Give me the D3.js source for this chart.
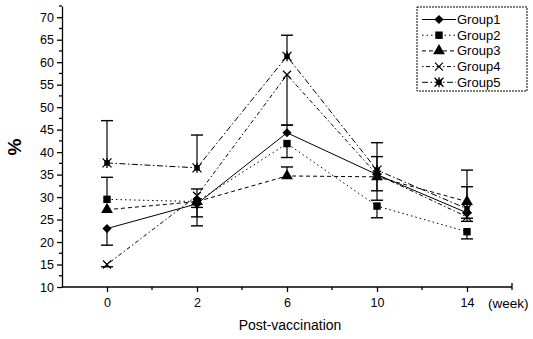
<!DOCTYPE html>
<meta charset="utf-8">
<head>
  <title>Post-vaccination</title>
  <script src="https://d3js.org/d3.v7.min.js"></script>
  <style>
    body { margin: 0; background: white; }
    text { font-family: "Liberation Sans", Arial, sans-serif; fill: black; }
    .axis path, .axis line { stroke: black; stroke-width: 1.3; }
    .axis text { font-size: 12.5px; }
  </style>
</head>
<body>
<script>
  // weeks after vaccination (categorical, evenly spaced)
  var weeks = ["0", "2", "6", "10", "14"];
  var yTicks = [10, 15, 20, 25, 30, 35, 40, 45, 50, 55, 60, 65, 70];

  var groupNames = ["Group1", "Group2", "Group3", "Group4", "Group5"];
  var group1 = [23.0, 28.5, 44.3, 35.0, 26.5];
  var group2 = [29.5, 29.0, 41.9, 28.0, 22.3];
  var group3 = [27.2, 29.0, 34.7, 34.5, 29.0];
  var group4 = [15.0, 30.3, 57.2, 35.0, 25.6];
  var group5 = [37.6, 36.5, 61.3, 36.0, 27.4];
  // one-sided error bars: positive = drawn up, negative = drawn down
  var err1 = [-3.7, -4.9, 1.7, -3.6, -1.2];
  var err2 = [4.9, -1.3, -3.1, -2.6, -1.6];
  var err3 = [0, -3.4, 2.0, -5.2, 3.3];
  var err4 = [-0.5, 1.5, -11.2, 4.0, -1.0];
  var err5 = [9.4, 7.3, 4.7, 6.1, 8.6];

  var values = [group1, group2, group3, group4, group5];
  var errors = [err1, err2, err3, err4, err5];
  var dashes = [null, "1.5,3", "4,3", "1.5,2.5,4,2.5", "6,2.5,1.5,2.5"];
  var shapes = ["diamond", d3.symbolSquare, d3.symbolTriangle, "x", "star"];

  var W = 533, H = 339;
  var svg = d3.select("body").append("svg").attr("width", W).attr("height", H);

  var x = d3.scalePoint().domain(weeks).range([62, 512]).padding(0.5);
  var y = d3.scaleLinear().domain([10, 72.5]).range([287, 6]);

  // x axis
  var gx = svg.append("g").attr("class", "axis").attr("transform", "translate(0,287)");
  gx.call(d3.axisBottom(x).tickSize(5).tickSizeOuter(0).tickPadding(6));
  gx.select(".domain").attr("d", "M62,0H512");
  var step = x.step();
  gx.selectAll(".minor").data(weeks.map(function(w) { return x(w) + step / 2; }))
    .enter().append("line").attr("class", "minor")
    .attr("x1", function(d) { return d; }).attr("x2", function(d) { return d; })
    .attr("y1", 0).attr("y2", 3);
  gx.append("line").attr("x1", 512).attr("x2", 512).attr("y1", 0).attr("y2", -4);

  // y axis
  var gy = svg.append("g").attr("class", "axis").attr("transform", "translate(62,0)");
  gy.call(d3.axisLeft(y).tickValues(yTicks).tickSize(5).tickSizeOuter(0).tickPadding(3));
  gy.selectAll(".minor").data(yTicks.map(function(t) { return t + 2.5; }))
    .enter().append("line").attr("class", "minor")
    .attr("x1", 0).attr("x2", -3)
    .attr("y1", function(d) { return y(d); }).attr("y2", function(d) { return y(d); });

  svg.append("text").attr("x", 488).attr("y", 308).style("font-size", "13.5px").text("(week)");
  svg.append("text").attr("x", 290).attr("y", 330).attr("text-anchor", "middle")
    .style("font-size", "14px").text("Post-vaccination");
  svg.append("text").attr("transform", "translate(21,147) rotate(-90)")
    .attr("text-anchor", "middle").style("font-size", "19px").style("font-weight", "bold").text("%");

  function marker(g, shape, cx, cy) {
    if (shape === "x") {
      g.append("path").attr("d", "M" + (cx - 4) + "," + (cy - 4) + "L" + (cx + 4) + "," + (cy + 4) +
        "M" + (cx - 4) + "," + (cy + 4) + "L" + (cx + 4) + "," + (cy - 4))
        .attr("stroke", "black").attr("stroke-width", 1.2);
    } else if (shape === "star") {
      g.append("path").attr("transform", "translate(" + cx + "," + cy + ")")
        .attr("d", d3.symbol().type(d3.symbolSquare).size(30)()).attr("fill", "black");
      g.append("path").attr("d", "M" + (cx - 4.5) + "," + (cy - 4.5) + "L" + (cx + 4.5) + "," + (cy + 4.5) +
        "M" + (cx - 4.5) + "," + (cy + 4.5) + "L" + (cx + 4.5) + "," + (cy - 4.5) +
        "M" + cx + "," + (cy - 5) + "V" + (cy + 5))
        .attr("stroke", "black").attr("stroke-width", 1.3);
    } else if (shape === "diamond") {
      g.append("path").attr("transform", "translate(" + cx + "," + cy + ") rotate(45)")
        .attr("d", d3.symbol().type(d3.symbolSquare).size(42)()).attr("fill", "black");
    } else {
      var size = shape === d3.symbolSquare ? 55 : 60;
      g.append("path").attr("transform", "translate(" + cx + "," + cy + ")")
        .attr("d", d3.symbol().type(shape).size(size)()).attr("fill", "black");
    }
  }

  var line = d3.line().x(function(d, i) { return x(weeks[i]); }).y(function(d) { return y(d); });

  values.forEach(function(vals, gi) {
    var g = svg.append("g");
    g.append("path").datum(vals).attr("d", line).attr("fill", "none")
      .attr("stroke", "black").attr("stroke-width", 1)
      .attr("stroke-dasharray", dashes[gi]);
    // error bars
    vals.forEach(function(v, i) {
      var e = errors[gi][i];
      if (!e) return;
      var cx = x(weeks[i]);
      g.append("line").attr("x1", cx).attr("x2", cx).attr("y1", y(v)).attr("y2", y(v + e))
        .attr("stroke", "black").attr("stroke-width", 1.2);
      g.append("line").attr("x1", cx - 6).attr("x2", cx + 6).attr("y1", y(v + e)).attr("y2", y(v + e))
        .attr("stroke", "black").attr("stroke-width", 1.4);
    });
    vals.forEach(function(v, i) { marker(g, shapes[gi], x(weeks[i]), y(v)); });
  });

  // legend
  var leg = svg.append("g");
  leg.append("rect").attr("x", 417).attr("y", 7).attr("width", 110).attr("height", 84)
    .attr("fill", "white").attr("stroke", "black").attr("stroke-width", 1)
    .attr("stroke-dasharray", "2,1");
  groupNames.forEach(function(name, gi) {
    var ly = 19.5 + gi * 15.7;
    leg.append("line").attr("x1", 422).attr("x2", 456).attr("y1", ly).attr("y2", ly)
      .attr("stroke", "black").attr("stroke-width", 1).attr("stroke-dasharray", dashes[gi]);
    marker(leg, shapes[gi], 439, ly);
    leg.append("text").attr("x", 457).attr("y", ly + 4.5).style("font-size", "13px").text(name);
  });
</script>
</body>
</html>
